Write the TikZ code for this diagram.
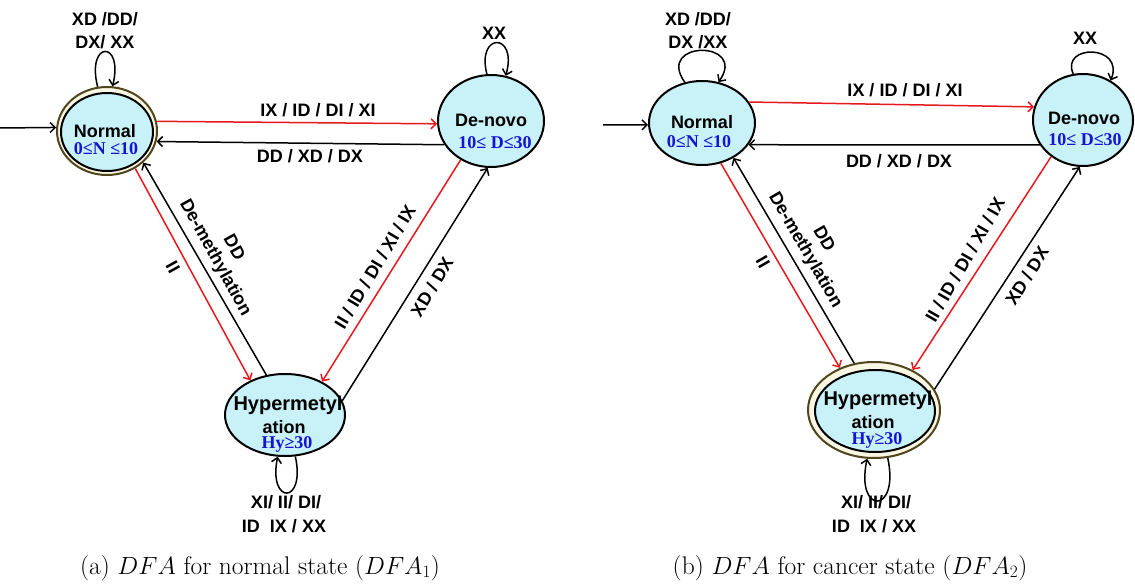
\documentclass[tikz,border=0pt]{standalone}
\usepackage{fontspec}
\newfontfamily\labfont{Liberation Sans}
\newfontfamily\numfont{Liberation Serif}
\usetikzlibrary{shapes.geometric,arrows.meta}
\definecolor{statefill}{RGB}{200,242,247}
\definecolor{ringcol}{RGB}{80,70,30}
\definecolor{ringfill}{RGB}{250,246,228}
\definecolor{trred}{RGB}{230,25,30}
\definecolor{numblue}{RGB}{20,20,210}
\tikzset{
  state/.style={ellipse, draw=black, line width=2pt, fill=statefill, inner sep=0pt},
  ring/.style={ellipse, draw=ringcol, line width=2pt, fill=ringfill, inner sep=0pt},
  lbl/.style={font=\labfont\bfseries\fontsize{18}{22}\selectfont, inner sep=0pt, anchor=base},
  hyp/.style={font=\labfont\bfseries\fontsize{20}{24}\selectfont},
  num/.style={font=\numfont\bfseries\fontsize{18}{22}\selectfont, text=numblue, inner sep=0pt, anchor=base},
  tr/.style={line width=1.5pt, -{Straight Barb[length=5pt,width=10pt]}},
  trr/.style={tr, draw=trred},
  rlbl/.style={font=\labfont\bfseries\fontsize{18}{21}\selectfont, inner sep=0pt, align=center},
  captext/.style={font=\fontsize{25.5}{30}\selectfont, inner sep=0pt, anchor=base},
}
\begin{document}
\begin{tikzpicture}[x=1pt,y=-1pt]
\useasboundingbox (0,0) rectangle (1135,588);
\fill[white] (0,0) rectangle (1135,588);
% ---------- left panel ----------
\node[ring, minimum width=100pt, minimum height=88pt] (N1o) at (107,131) {};
\node[state, minimum width=92pt, minimum height=78pt] (N1) at (107,132) {};
\node[state, minimum width=106pt, minimum height=92pt] (D1) at (491,121) {};
\node[state, minimum width=120pt, minimum height=82pt] (H1) at (285,415) {};

\coordinate (s1) at (0,128);
\draw[tr] (s1) -- (N1o.176);
\draw[trr] (N1o.11) -- (D1.183);
\draw[tr] (D1.207) -- (N1o.-12);
\draw[trr] (N1o.-53) -- (H1.135);
\draw[tr] (H1.115) -- (N1o.-41);
\draw[trr] (D1.232) -- (H1.42);
\draw[tr] (H1.14) -- (D1.266);
\draw[tr] (N1o.102) .. controls (86,40) and (124,40) .. (N1o.83);
\draw[tr] (D1.95) .. controls (476,32) and (518,32) .. (D1.72);
\draw[tr] (H1.-76) .. controls (306,505) and (268,505) .. (H1.-100);

\node[lbl] (tN1) at (105,138) {Normal};
\node[num] (vN1) at (106,155) {0≤N ≤10};
\node[lbl] (tD1) at (491,127) {De-novo};
\node[num] (vD1) at (495,149) {10≤ D≤30};
\node[lbl,hyp] (tH1a) at (288,410) {Hypermetyl};
\node[lbl] (tH1b) at (284,433) {ation};
\node[num] (vH1) at (287,448) {Hy≥30};
\node[lbl] (lN1a) at (105,26) {XD /DD/};
\node[lbl] (lN1b) at (105,49) {DX/ XX};
\node[lbl] (lD1) at (494,40) {XX};
\node[lbl] (lH1a) at (286,508) {XI/ II/ DI/};
\node[lbl] (lH1b) at (284,532) {ID\ \ IX / XX};
\node[lbl] (e1) at (318,117) {IX / ID / DI / XI};
\node[lbl] (e2) at (310,163) {DD / XD / DX};
\node[rlbl, rotate=-61] (e3) at (173,267) {II};
\node[rlbl, rotate=-61] (e4) at (224,253) {DD\\De-methylation};
\node[rlbl, rotate=59] (e5) at (375,267) {II / ID / DI / XI / IX};
\node[rlbl, rotate=59] (e6) at (432,287) {XD / DX};
\node[captext] (c1) at (260,574) {(a) $DFA$ for normal state ($DFA_1$)};

% ---------- right panel ----------
\node[state, minimum width=106pt, minimum height=84pt] (N2) at (702,123) {};
\node[state, minimum width=100pt, minimum height=92pt] (D2) at (1083,120) {};
\node[ring, minimum width=132pt, minimum height=96pt] (H2o) at (874,410) {};
\node[state, minimum width=120pt, minimum height=82pt] (H2) at (875,411) {};

\coordinate (s2) at (603,125);
\draw[tr] (s2) -- (N2.182);
\draw[trr] (N2.24) -- (D2.165);
\draw[tr] (D2.210) -- (N2.-25);
\draw[trr] (N2.-65) -- (H2o.129);
\draw[tr] (H2o.113) -- (N2.-48);
\draw[trr] (D2.229) -- (H2o.46);
\draw[tr] (H2o.19) -- (D2.266);
\draw[tr] (N2.113) .. controls (655,40) and (748,40) .. (N2.68);
\draw[tr] (D2.102) .. controls (1060,44) and (1125,44) .. (D2.55);
\draw[tr] (H2o.-74) .. controls (900,515) and (855,515) .. (H2o.-98);

\node[lbl] (tN2) at (702,129) {Normal};
\node[num] (vN2) at (699,148) {0≤N ≤10};
\node[lbl] (tD2) at (1084,125) {De-novo};
\node[num] (vD2) at (1085,146) {10≤ D≤30};
\node[lbl,hyp] (tH2a) at (878,405) {Hypermetyl};
\node[lbl] (tH2b) at (873,428) {ation};
\node[num] (vH2) at (877,444) {Hy≥30};
\node[lbl] (lN2a) at (698,26) {XD /DD/};
\node[lbl] (lN2b) at (698,49) {DX /XX};
\node[lbl] (lD2) at (1085,45) {XX};
\node[lbl] (lH2a) at (876,508) {XI/ II/ DI/};
\node[lbl] (lH2b) at (874,532) {ID\ \ IX / XX};
\node[lbl] (e7) at (905,97) {IX / ID / DI / XI};
\node[lbl] (e8) at (899,168) {DD / XD / DX};
\node[rlbl, rotate=-60] (e9) at (763,262) {II};
\node[rlbl, rotate=-60] (e10) at (814,245) {DD\\De-methylation};
\node[rlbl, rotate=60] (e11) at (965,260) {II / ID / DI / XI / IX};
\node[rlbl, rotate=58] (e12) at (1027,276) {XD / DX};
\node[captext] (c2) at (850,574) {(b) $DFA$ for cancer state ($DFA_2$)};
\end{tikzpicture}
\end{document}
